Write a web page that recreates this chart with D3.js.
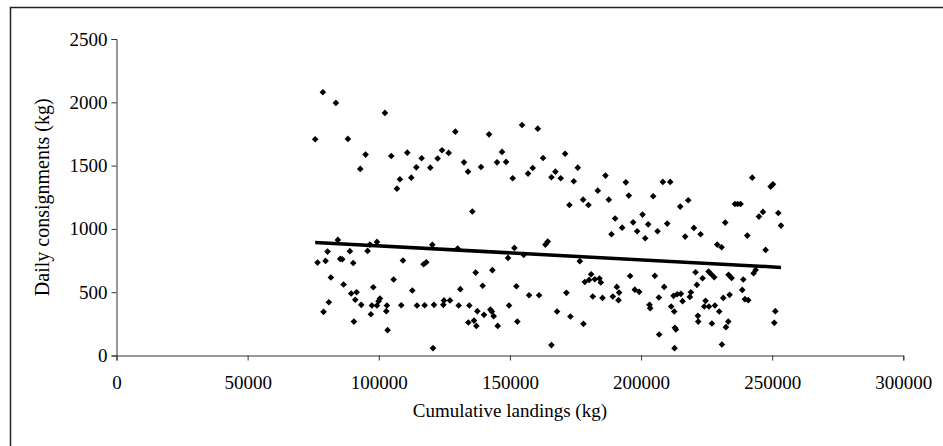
<!DOCTYPE html>
<html>
<head>
<meta charset="utf-8">
<script src="https://cdn.jsdelivr.net/npm/d3@7"></script>
<style>
  html, body { margin: 0; padding: 0; background: #fff; }
  svg { display: block; }
  text { font-family: "Liberation Serif", "Times New Roman", serif; fill: #000; }
</style>
</head>
<body>
<svg id="chart" width="943" height="446"></svg>
<script>
// Cumulative landings (kg)
const landings = [
  78690,83650,102350,75760,88230,94970,92940,104770,110870,114310,112400,108070,106930,
  84410,99300,96620,80470,88990,95730,76650,79710,85300,86070,90260,109220,81740,86580,
  105660,89500,91540,97900,91030,100440,99930,93320,97390,99300,103110,102860,97000,
  108580,112780,114560,80980,78940,90520,103370,
  116350,119650,122450,124110,126650,129190,132500,134030,138990,142040,145090,147000,
  148530,154630,151070,156920,158700,135680,120420,130080,151710,149290,155270,117110,
  118130,136950,143310,131100,139620,152470,157310,117490,121050,124870,124610,127160,
  130470,134540,137590,140130,142550,143100,143820,134150,136320,137210,145350,149670,
  152850,120670,
  160620,162650,171050,165830,167360,169390,175880,174360,186440,194200,172700,177920,
  179950,183510,187710,195340,190130,192800,188730,196990,200560,198520,201580,163540,
  164430,176650,178550,180970,180210,182370,184150,184660,195850,190760,191650,191400,
  189240,185300,181610,171560,161130,197630,199290,167980,173080,178040,165830,
  242410,208320,211120,204640,217990,214940,235800,236820,237960,202730,209980,206290,
  220150,222700,216840,232110,240510,229060,230710,244960,246480,247500,205270,208830,
  206800,212400,213790,215190,211500,212650,203240,203490,215830,218630,219010,221300,
  220790,223460,225750,226770,227910,224610,224100,225880,228170,229820,221680,221810,
  227020,233260,232370,231350,233760,233380,234530,238980,238600,239610,240890,242920,
  243690,206920,212900,213280,212780,230840,
  249420,250310,252340,253360,251200,250810
];
// Daily consignments (kg)
const consignments = [
  2079,1995,1916,1708,1711,1587,1474,1576,1602,1486,1405,1392,1318,
  913,897,876,821,824,826,734,747,763,760,731,750,616,561,
  600,490,500,539,440,450,429,400,395,395,395,350,326,
  397,513,395,421,345,268,200,
  1558,1484,1556,1621,1600,1768,1526,1452,1489,1747,1526,1608,
  1529,1821,1400,1437,1481,1137,874,845,850,771,795,721,
  737,655,674,524,551,547,476,397,400,435,400,435,
  395,395,350,321,363,347,311,261,276,234,234,395,
  268,58,
  1792,1560,1594,1408,1452,1400,1484,1376,1421,1368,1189,1231,
  1189,1302,1231,1263,1082,1010,958,1052,1113,981,926,876,
  900,745,581,642,597,602,608,577,628,542,497,437,
  466,455,466,495,476,520,503,348,308,250,82,
  1405,1371,1371,1258,1226,1176,1197,1197,1197,1036,1042,981,
  1008,958,939,1050,947,876,855,1097,1134,834,629,542,
  458,471,484,487,387,348,400,374,429,463,500,558,
  658,610,663,642,618,432,387,387,395,348,313,268,
  253,268,224,455,479,637,613,600,518,445,437,650,
  676,166,219,206,58,87,
  1334,1352,1126,1026,350,258
];
// Linear trend line end points
const trendX = [75760, 253360];
const trendY = [893, 696];

const xTicks = [0, 50000, 100000, 150000, 200000, 250000, 300000];
const yTicks = [0, 500, 1000, 1500, 2000, 2500];

const svg = d3.select("#chart");

// outer frame (clipped on right/bottom like the reference)
svg.append("rect")
  .attr("x", 10.5).attr("y", 7.5)
  .attr("width", 1000).attr("height", 500)
  .attr("fill", "none").attr("stroke", "#222").attr("stroke-width", 1.5);

const x = d3.scaleLinear().domain([0, 300000]).range([116.5, 903.3]);
const y = d3.scaleLinear().domain([0, 2500]).range([355.5, 39]);

const fmt = d3.format("d");

const yAxis = svg.append("g")
  .attr("transform", `translate(${x(0)},0)`)
  .call(d3.axisLeft(y).tickValues(yTicks).tickFormat(fmt).tickSize(5).tickPadding(4));
const xAxis = svg.append("g")
  .attr("transform", `translate(0,${y(0)})`)
  .call(d3.axisBottom(x).tickValues(xTicks).tickFormat(fmt).tickSize(5).tickPadding(15));

[xAxis, yAxis].forEach(g => {
  g.select(".domain").attr("stroke", "#333").attr("stroke-width", 1);
  g.selectAll(".tick line").attr("stroke", "#333");
  g.selectAll("text").style("font-family", '"Liberation Serif", serif').style("font-size", "19px").attr("fill", "#000");
});

// points
const diamond = {
  draw(ctx, size) {
    const r = Math.sqrt(size / 2);
    ctx.moveTo(0, -r); ctx.lineTo(r, 0); ctx.lineTo(0, r); ctx.lineTo(-r, 0); ctx.closePath();
  }
};
const pts = landings.map((v, i) => ({ x: v, y: consignments[i] }));
svg.append("g").selectAll("path")
  .data(pts).join("path")
  .attr("transform", d => `translate(${x(d.x)},${y(d.y)})`)
  .attr("d", d3.symbol().type(diamond).size(22))
  .attr("fill", "#000");

// trend line
const trend = trendX.map((v, i) => [v, trendY[i]]);
svg.append("path")
  .datum(trend)
  .attr("d", d3.line().x(d => x(d[0])).y(d => y(d[1])))
  .attr("stroke", "#000").attr("stroke-width", 3.5).attr("fill", "none");

// titles
svg.append("text")
  .attr("x", (x(0) + x(300000)) / 2).attr("y", 417)
  .attr("text-anchor", "middle")
  .style("font-size", "19px")
  .text("Cumulative landings (kg)");
svg.append("text")
  .attr("transform", `translate(49,${(y(0) + y(2500)) / 2}) rotate(-90)`)
  .attr("text-anchor", "middle")
  .style("font-size", "20px")
  .text("Daily consignments (kg)");
</script>
</body>
</html>
